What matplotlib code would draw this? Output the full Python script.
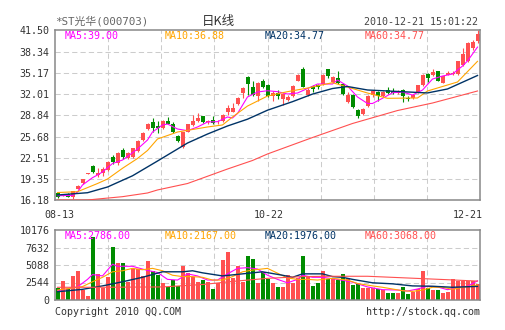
import numpy as np
import matplotlib
matplotlib.use('Agg')
import matplotlib.pyplot as plt

# 日K线数据（2010-08-13 至 2010-12-21，共85个交易日）
dates = ['08-13', '10-22', '12-21']
date_pos = [0, 42, 84]

opens = [17.2, 16.9, 17.1, 16.6, 17.9, 18.7, 20.1, 21.3, 19.9, 20.3,
         20.7, 22.7, 21.7, 23.7, 22.5, 22.6, 23.5, 25.2, 26.8, 27.8,
         27.3, 26.9, 28.0, 27.6, 25.8, 24.1, 26.4, 27.4, 28.0, 28.7,
         27.8, 28.1, 27.8, 28.0, 29.4, 29.4, 30.5, 32.2, 34.6, 33.1,
         31.7, 34.0, 33.4, 31.7, 32.1, 31.2, 31.1, 31.7, 34.0, 35.8,
         31.9, 33.2, 33.3, 33.5, 35.7, 33.85, 34.35, 33.5, 30.85, 31.85,
         29.7, 29.0, 30.2, 31.9, 32.35, 31.7, 32.6, 32.5, 32.1, 32.6,
         31.35, 31.4, 32.15, 33.3, 35.0, 34.8, 35.4, 33.65, 34.9, 35.0,
         35.0, 36.3, 36.9, 38.9, 39.9]
closes = [16.7, 17.0, 16.7, 17.5, 18.3, 19.3, 20.2, 20.4, 20.2, 20.8,
          21.9, 21.9, 23.2, 22.6, 23.2, 23.9, 25.0, 26.2, 27.5, 26.9,
          27.0, 28.0, 27.6, 26.3, 25.0, 26.3, 27.5, 28.0, 28.4, 27.9,
          28.0, 27.7, 27.9, 28.9, 29.9, 29.9, 31.4, 32.9, 33.5, 31.9,
          33.7, 33.1, 31.7, 32.1, 31.7, 31.95, 31.6, 33.2, 34.85, 33.1,
          32.6, 32.7, 33.0, 34.85, 34.7, 34.6, 33.6, 31.95, 31.85, 30.1,
          28.7, 29.85, 31.7, 32.4, 31.7, 32.35, 32.1, 32.1, 32.5, 31.7,
          31.25, 31.9, 33.3, 34.9, 34.4, 35.3, 34.0, 34.65, 35.2, 35.2,
          36.9, 37.9, 39.6, 39.8, 41.0]
highs = [17.4, 17.1, 17.2, 17.6, 18.5, 19.4, 20.2, 21.4, 21.0, 21.1,
         22.0, 23.0, 23.3, 23.9, 23.4, 24.0, 25.1, 26.3, 27.7, 28.4,
         28.0, 28.1, 28.6, 27.8, 25.9, 26.4, 27.6, 28.9, 29.2, 28.8,
         28.2, 28.7, 28.1, 29.0, 30.4, 30.6, 31.5, 33.0, 34.7, 33.9,
         33.8, 34.3, 33.5, 32.5, 32.6, 32.1, 31.8, 33.3, 35.0, 36.0,
         32.9, 33.4, 33.5, 35.0, 35.8, 34.7, 35.4, 33.6, 32.3, 32.0,
         29.8, 29.9, 31.8, 32.6, 32.5, 32.5, 33.0, 32.9, 32.6, 32.7,
         31.7, 32.0, 33.4, 35.0, 35.1, 35.7, 35.5, 34.7, 35.5, 35.4,
         37.0, 38.9, 39.7, 40.1, 41.5]
lows = [16.5, 16.8, 16.6, 16.4, 17.8, 18.6, 20.1, 20.3, 19.7, 19.8,
        20.5, 21.6, 21.5, 22.4, 22.4, 22.5, 23.4, 25.0, 26.6, 26.4,
        26.2, 26.8, 27.5, 26.2, 24.9, 24.0, 26.3, 27.3, 27.9, 27.7,
        27.6, 27.5, 27.6, 27.9, 28.9, 29.3, 30.4, 31.4, 31.8, 31.7,
        30.9, 32.9, 31.5, 31.0, 31.3, 30.4, 31.0, 31.6, 33.9, 33.0,
        31.7, 32.3, 32.8, 33.4, 34.4, 33.7, 33.5, 31.8, 30.7, 30.0,
        28.5, 28.9, 30.1, 31.6, 30.9, 31.6, 32.0, 32.0, 32.0, 30.8,
        30.9, 31.3, 32.1, 33.2, 33.8, 34.7, 33.9, 33.6, 34.8, 34.9,
        34.9, 36.2, 36.8, 38.5, 39.6]
volumes = [1700, 2800, 1600, 3500, 4200, 1450, 600, 9200, 3800, 1750,
           3300, 7750, 5400, 5400, 2650, 4450, 4450, 3500, 5600, 4250,
           3650, 2500, 1850, 2900, 2050, 4950, 3950, 3300, 2650, 2900,
           2600, 1650, 2500, 5800, 6950, 3200, 4950, 2650, 6400, 5950,
           2400, 4100, 3100, 2500, 1950, 1950, 3600, 2450, 3250, 6400,
           3500, 2050, 2450, 4250, 3050, 3150, 2900, 3800, 3150, 2200,
           2300, 1800, 1800, 1800, 1550, 1450, 1050, 1050, 1050, 1850,
           900, 1150, 1550, 4250, 1800, 1450, 1450, 1050, 1200, 3000,
           2700, 2800, 2800, 2800, 2300]

# 均线（从图上读取的折点）
ma5_idx = [0, 3, 4, 5, 7, 8, 9, 11, 13, 14, 16, 18, 19, 21, 22, 24, 26, 28, 30, 32,
           34, 35, 36, 38, 40, 42, 44, 46, 48, 50, 52, 55, 56, 58, 60, 62, 63, 65, 67, 69,
           71, 73, 75, 77, 79, 81, 82, 84]
ma5_val = [16.87, 16.9, 17.42, 18.46, 19.55, 19.95, 20.4, 21.66, 22.18, 22.7,
           23.82, 25.16, 26.35, 27.4, 27.54, 26.8, 26.55, 27.1, 27.84, 27.89,
           28.59, 28.44, 29.11, 31.57, 32.31, 32.5, 32.36, 32.01, 32.16, 32.83,
           33.5, 33.5, 34.1, 33.2, 31.57, 30.6, 30.6, 31.37, 32.2, 32.31,
           31.86, 32.6, 34.24, 34.69, 34.99, 36.18, 36.93, 39.0]
ma10_idx = [0, 4, 8, 10, 13, 16, 18, 20, 24, 30, 33, 35, 38, 42, 46, 50, 55, 58, 62, 66,
            72, 74, 80, 84]
ma10_val = [17.34, 17.46, 18.68, 19.35, 20.95, 22.41, 23.6, 25.31, 26.35, 27.1,
            27.4, 28.59, 30.22, 31.71, 32.36, 32.9, 33.7, 33.05, 32.16, 31.37,
            31.42, 32.46, 33.8, 36.88]
ma20_idx = [0, 6, 10, 15, 20, 26, 30, 34, 38, 42, 47, 51, 55, 58, 62, 68, 74, 78, 84]
ma20_val = [16.97, 17.31, 18.16, 19.83, 22.03, 24.71, 26.05, 27.25, 28.26, 29.6,
            30.87, 32.0, 32.83, 33.13, 32.61, 32.39, 32.17, 32.76, 34.77]
ma60_idx = [0, 6, 8, 13, 18, 20, 26, 34, 39, 42, 51, 59, 68, 75, 84]
ma60_val = [16.22, 16.22, 16.37, 16.72, 17.27, 17.72, 18.68, 20.84, 22.11, 23.08,
            25.53, 27.62, 29.55, 30.67, 32.46]

vma5_idx = [0, 4, 6, 7, 9, 11, 12, 15, 18, 20, 22, 24, 26, 28, 30, 32, 34, 36, 38, 40,
            42, 44, 46, 48, 49, 51, 53, 56, 59, 62, 65, 68, 70, 72, 74, 76, 78, 80, 82, 84]
vma5_val = [1350, 1900, 3000, 3700, 3500, 5200, 4900, 4900, 4300, 4000,
            3000, 2900, 3800, 3500, 2900, 2900, 3800, 4600, 4700, 4500,
            3600, 3000, 2500, 3000, 3600, 3300, 3300, 3000, 2600, 1900,
            1500, 1450, 1300, 1600, 2000, 1900, 1500, 1800, 2000, 2786]
vma10_idx = [0, 5, 7, 9, 11, 13, 15, 17, 19, 21, 23, 25, 27, 29, 31, 33, 35, 37, 39, 42,
             44, 46, 48, 50, 52, 55, 58, 60, 63, 65, 69, 71, 73, 75, 77, 79, 81, 84]
vma10_val = [1450, 1950, 2650, 3300, 4100, 4250, 4600, 4400, 4600, 4250,
             3600, 3400, 3400, 3300, 2900, 2900, 3400, 4100, 4350, 4600,
             3900, 3200, 3000, 3000, 2900, 3150, 2900, 2400, 2050, 1850,
             1350, 1250, 1450, 1850, 1850, 1550, 1850, 2167]
vma20_idx = [0, 5, 9, 13, 17, 21, 25, 27, 29, 33, 35, 37, 41, 43, 45, 47, 49, 53, 55, 57,
             59, 63, 67, 71, 75, 79, 84]
vma20_val = [1200, 1550, 2050, 2650, 3300, 4100, 4100, 4250, 3950, 3500,
             3650, 3800, 4100, 3850, 3600, 3300, 3800, 3800, 3400, 3300,
             3000, 2500, 2350, 2050, 2000, 1850, 1976]
vma60_idx = [0, 9, 21, 29, 35, 42, 49, 54, 62, 70, 78, 84]
vma60_val = [1850, 1850, 1900, 2250, 2700, 3150, 3400, 3450, 3450, 3200, 2950, 2750]

price_ticks = [16.18, 19.35, 22.51, 25.68, 28.84, 32.01, 35.17, 38.34, 41.50]
vol_ticks = [0, 2544, 5088, 7632, 10176]

price_legend = ['MA5:39.00', 'MA10:36.88', 'MA20:34.77', 'MA60:34.77']
vol_legend = ['MA5:2786.00', 'MA10:2167.00', 'MA20:1976.00', 'MA60:3068.00']

RED = '#ff5050'
GREEN = '#008c00'
MA_COLORS = ['#ff00ff', '#ffa500', '#003366', '#ff5050']
MONO = ['DejaVu Sans Mono', 'Noto Sans CJK SC']
W, H = 505, 330


def style_axes(ax, yticks, ylabels):
    """边框、网格、刻度"""
    n = len(opens)
    ax.set_xlim(-0.5, n - 0.5)
    ax.set_ylim(yticks[0], yticks[-1])
    for s in ax.spines.values():
        s.set_color('#888888')
        s.set_linewidth(1.1)
    for k in range(1, 8):
        ax.axvline(-0.5 + n / 8 * k, color='#cccccc', lw=0.75, ls=(0, (5, 3)), zorder=0)
    for t in yticks[1:-1]:
        ax.axhline(t, color='#cccccc', lw=0.75, ls=(0, (5, 3)), zorder=0)
    ax.set_yticks(yticks)
    ax.set_yticklabels(ylabels, family=MONO, fontsize=7.2, color='#333333')
    ax.tick_params(length=0, pad=4)
    ax.set_xticks([])


def add_legend(ax, labels, y):
    for lab, color, px in zip(labels, MA_COLORS, [65, 165, 265, 365]):
        ax.text((px - 55) / 425, y, lab, transform=ax.transAxes, color=color,
                family=MONO, fontsize=7.2, va='center', ha='left')


def plot_kline(ax):
    """绘制K线与均线"""
    x = np.arange(len(opens))
    o = np.array(opens)
    c = np.array(closes)
    colors = [RED if cc >= oo else GREEN for oo, cc in zip(o, c)]
    ax.vlines(x, lows, highs, colors=colors, lw=0.8, zorder=2)
    ax.bar(x, np.maximum(np.abs(c - o), 0.08), bottom=np.minimum(o, c),
           width=0.8, color=colors, zorder=2)
    for idx, val, color in zip([ma5_idx, ma10_idx, ma20_idx, ma60_idx],
                               [ma5_val, ma10_val, ma20_val, ma60_val], MA_COLORS):
        lw = 1.0 if color == '#003366' else 0.8
        ax.plot(idx, val, color=color, lw=lw, zorder=3)
    style_axes(ax, price_ticks, ['%.2f' % t for t in price_ticks])
    add_legend(ax, price_legend, 1 - 6 / 170)
    for pos, d in zip(date_pos, dates):
        ha = 'right' if pos == date_pos[-1] else 'center'
        xx = pos + 1.0 if ha == 'right' else pos + 0.3
        ax.text(xx, -15 / 170, d, transform=ax.get_xaxis_transform(), ha=ha, va='center',
                family=MONO, fontsize=7.2, color='#333333')


def plot_volume(ax):
    """绘制成交量与均量线"""
    x = np.arange(len(volumes))
    colors = [RED if cc >= oo else GREEN for oo, cc in zip(opens, closes)]
    ax.bar(x, volumes, width=0.8, color=colors, zorder=2)
    for idx, val, color in zip([vma5_idx, vma10_idx, vma20_idx, vma60_idx],
                               [vma5_val, vma10_val, vma20_val, vma60_val], MA_COLORS):
        lw = 1.0 if color == '#003366' else 0.8
        ax.plot(idx, val, color=color, lw=lw, zorder=3)
    style_axes(ax, vol_ticks, [str(t) for t in vol_ticks])
    add_legend(ax, vol_legend, 1 - 6 / 70)


def main():
    fig = plt.figure(figsize=(W / 100, H / 100), dpi=100)
    fig.patch.set_facecolor('white')

    ax1 = fig.add_axes([55 / W, 1 - 200.3 / H, 425 / W, 170 / H])
    ax2 = fig.add_axes([55 / W, 1 - 300 / H, 425 / W, 70 / H])
    plot_kline(ax1)
    plot_volume(ax2)

    # 标题行
    fig.text(55 / W, 1 - 25 / H, '*ST光华(000703)', family=MONO, fontsize=7.8,
             color='#666666', ha='left', va='baseline')
    fig.text(218 / W, 1 - 25 / H, '日K线', family=['Noto Sans CJK SC', 'DejaVu Sans'],
             fontsize=9, color='#333333', ha='center', va='baseline')
    fig.text(478 / W, 1 - 25 / H, '2010-12-21 15:01:22', family=MONO, fontsize=7.2,
             color='#444444', ha='right', va='baseline')
    # 底部
    fig.text(55 / W, 1 - 312 / H, 'Copyright 2010 QQ.COM', family=MONO, fontsize=7.2,
             color='#333333', ha='left', va='center')
    fig.text(480 / W, 1 - 312 / H, 'http://stock.qq.com', family=MONO, fontsize=7.2,
             color='#333333', ha='right', va='center')

    fig.savefig('out.png', dpi=100)


if __name__ == '__main__':
    main()
